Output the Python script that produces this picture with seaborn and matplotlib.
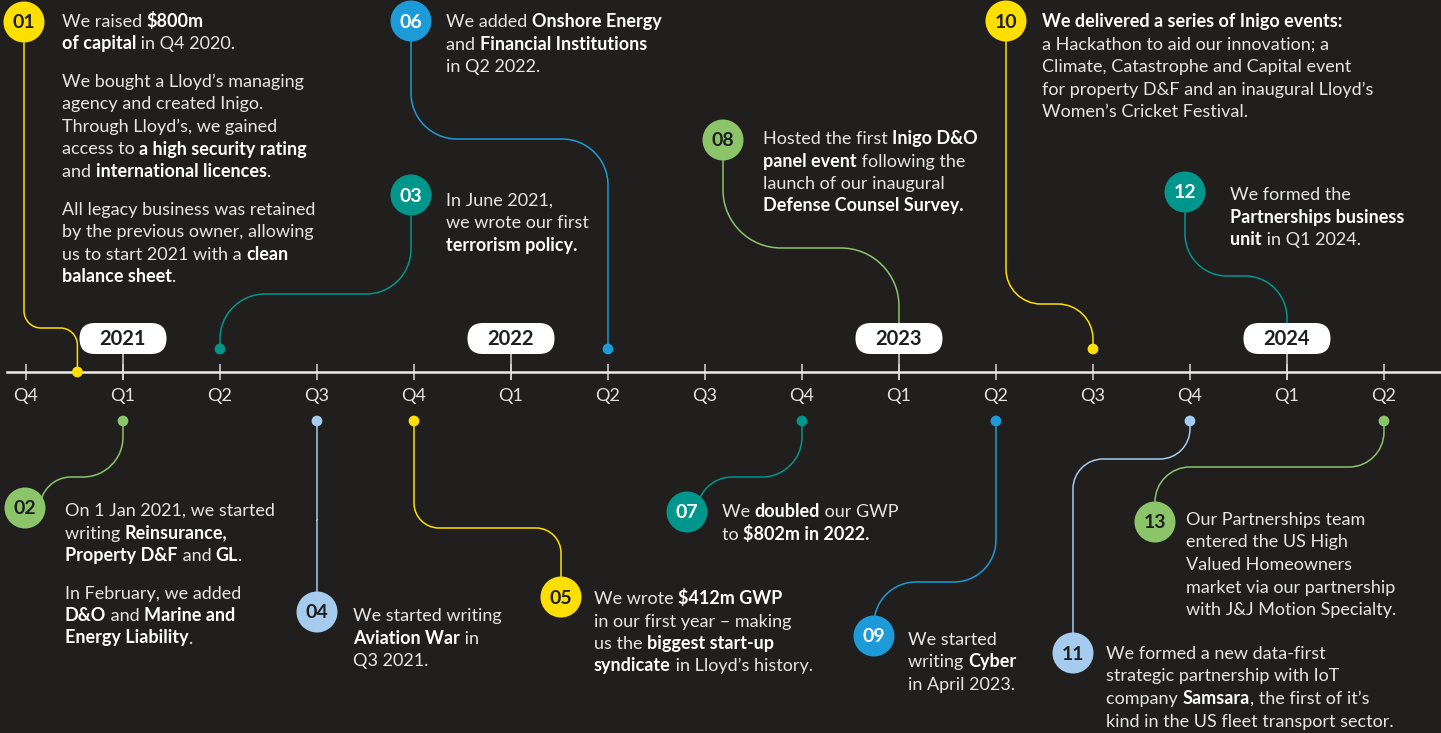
import matplotlib
matplotlib.use("Agg")
import matplotlib.pyplot as plt
import numpy as np
import pandas as pd
import seaborn as sns
from matplotlib.path import Path
from matplotlib.patches import PathPatch, Circle, FancyBboxPatch
from matplotlib.transforms import Affine2D

W, H = 1441, 733
BG = "#201f1e"
FONT = "Lato"

# timeline axis
quarter_labels = ["Q4", "Q1", "Q2", "Q3", "Q4", "Q1", "Q2", "Q3",
                  "Q4", "Q1", "Q2", "Q3", "Q4", "Q1", "Q2"]
years = ["2021", "2022", "2023", "2024"]
year_quarter = [1, 5, 9, 13]

# events (quarter index 0 = Q4 2020)
event_ids = ["01", "02", "03", "04", "05", "06", "07", "08", "09", "10", "11", "12", "13"]
event_quarter = [0.53, 1, 2, 3, 4, 6, 8, 9, 10, 11, 12, 13, 14]
event_side = ["on", "below", "above", "below", "below", "above", "below",
              "year", "below", "above", "below", "year", "below"]
event_colour = ["yellow", "green", "teal", "lightblue", "yellow", "blue", "teal",
                "green", "blue", "yellow", "lightblue", "teal", "green"]
event_text = [
    "We raised **$800m**\n**of capital** in Q4 2020.\n\n"
    "We bought a Lloyd’s managing\nagency and created Inigo.\nThrough Lloyd’s, we gained\n"
    "access to **a high security rating**\nand **international licences**.\n\n"
    "All legacy business was retained\nby the previous owner, allowing\n"
    "us to start 2021 with a **clean**\n**balance sheet**.",
    "On 1 Jan 2021, we started\nwriting **Reinsurance,**\n**Property D&F** and **GL**.\n\n"
    "In February, we added\n**D&O** and **Marine and**\n**Energy Liability**.",
    "In June 2021,\nwe wrote our first\n**terrorism policy.**",
    "We started writing\n**Aviation War** in\nQ3 2021.",
    "We wrote **$412m GWP**\nin our first year – making\nus the **biggest start-up**\n"
    "**syndicate** in Lloyd’s history.",
    "We added **Onshore Energy**\nand **Financial Institutions**\nin Q2 2022.",
    "We **doubled** our GWP\nto **$802m in 2022.**",
    "Hosted the first **Inigo D&O**\n**panel event** following the\nlaunch of our inaugural\n"
    "**Defense Counsel Survey.**",
    "We started\nwriting **Cyber**\nin April 2023.",
    "**We delivered a series of Inigo events:**\na Hackathon to aid our innovation; a\n"
    "Climate, Catastrophe and Capital event\nfor property D&F and an inaugural Lloyd’s\n"
    "Women’s Cricket Festival.",
    "We formed a new data-first\nstrategic partnership with IoT\n"
    "company **Samsara**, the first of it’s\nkind in the US fleet transport sector.",
    "We formed the\n**Partnerships business**\n**unit** in Q1 2024.",
    "Our Partnerships team\nentered the US High\nValued Homeowners\n"
    "market via our partnership\nwith J&J Motion Specialty.",
]

COLOURS = {"yellow": "#ffdf00", "green": "#8cc46a", "teal": "#00968c",
           "blue": "#1d9ad8", "lightblue": "#a5cbee"}
NUM_COLOUR = {"yellow": "#1e1e1e", "green": "#1e1e1e", "lightblue": "#1e1e1e",
              "teal": "#ffffff", "blue": "#ffffff"}
SIDE_Y = {"above": 349, "below": 421, "on": 372, "year": 323}

# layout in pixels: badge centre, text origin (x, first baseline), connector
LAYOUT = {
    "01": dict(badge=(24, 22), text=(62, 27), ym=328, r=17),
    "02": dict(badge=(25, 508), text=(65, 516), ym=477, r=40, xs=40),
    "03": dict(badge=(411, 195), text=(446, 206), ym=294, r=45),
    "04": dict(badge=(317, 612), text=(353, 621), ym=520, r=0),
    "05": dict(badge=(561, 597), text=(594, 604), ym=528, r=25),
    "06": dict(badge=(411, 21), text=(446, 27), ym=139, r=46),
    "07": dict(badge=(687, 512), text=(722, 517), ym=477, r=40, xs=697),
    "08": dict(badge=(723, 140), text=(763, 144), ym=248, r=58),
    "09": dict(badge=(874, 636), text=(908, 645), ym=582, r=42),
    "10": dict(badge=(1006, 21), text=(1042, 27), ym=304, r=35),
    "11": dict(badge=(1073, 653), text=(1106, 659), ym=459, r=30),
    "12": dict(badge=(1185, 192), text=(1230, 200), ym=276, r=42),
    "13": dict(badge=(1155, 522), text=(1186, 525), ym=467, r=35),
}
LINE_H = 22.5
PARA_GAP = 15
BODY_FS = 13

sns.set_style("dark", {"axes.facecolor": BG, "figure.facecolor": BG})
plt.rcParams["font.family"] = [FONT, "DejaVu Sans"]

fig = plt.figure(figsize=(W / 100, H / 100), dpi=100)
ax = fig.add_axes([0, 0, 1, 1])
pix = Affine2D().scale(1 / 100, -1 / 100).translate(0, H / 100) + fig.dpi_scale_trans

df = pd.DataFrame({"id": event_ids, "q": event_quarter, "side": event_side,
                   "colour": event_colour, "text": event_text})
df["y"] = df["side"].map(SIDE_Y)
dots = df[df["side"] != "year"]
sns.scatterplot(data=dots, x="q", y="y", hue="id",
                palette={i: COLOURS[c] for i, c in zip(df["id"], df["colour"])},
                s=60, edgecolor="none", legend=False, ax=ax, zorder=6)

ax.set_xlim(-0.268, 14.588)
ax.set_ylim(H, 0)
ax.set_xlabel("")
ax.set_ylabel("")
ax.grid(False)
ax.set_facecolor(BG)
for s in ["top", "left", "right"]:
    ax.spines[s].set_visible(False)
ax.spines["bottom"].set_position(("data", 372))
ax.spines["bottom"].set_bounds(-0.2, 14.588)
ax.spines["bottom"].set_color("#ececec")
ax.spines["bottom"].set_linewidth(1.8)
ax.set_xticks(range(len(quarter_labels)), quarter_labels)
ax.set_yticks([])
ax.tick_params(axis="x", direction="inout", length=11, width=1.1, color="#d8d8d8",
               labelcolor="#e4e4e4", labelsize=13, pad=6, bottom=True)
ax.vlines(year_quarter, 354, 380, colors="#d8d8d8", lw=1.1, zorder=1)

fig.canvas.draw()
renderer = fig.canvas.get_renderer()
to_pix = ax.transData + pix.inverted()


def qx(q):
    return to_pix.transform((q, 0))[0]


# year labels
for yr, q in zip(years, year_quarter):
    xc = qx(q)
    ax.add_patch(FancyBboxPatch((xc - 43.5, 323), 87, 31,
                                boxstyle="round,pad=0,rounding_size=15.5",
                                fc="white", ec="none", transform=pix, zorder=4))
    ax.text(xc, 339, yr, transform=pix, ha="center", va="center",
            fontsize=14.5, fontweight="bold", color="#1e1e1e", zorder=5)


def connector(pts, r):
    p0, p1, p2, p3 = [np.array(p, float) for p in pts]
    k = 0.5523
    verts, codes = [p0], [Path.MOVETO]

    def seg(a, b):
        d = b - a
        n = np.hypot(*d)
        return (d / n if n else d * 0), n

    u01, l01 = seg(p0, p1)
    u12, l12 = seg(p1, p2)
    u23, l23 = seg(p2, p3)
    for c, ui, uo, rr in [(p1, u01, u12, min(r, l01, l12 / 2)),
                          (p2, u12, u23, min(r, l12 / 2, l23))]:
        a = c - rr * ui
        b = c + rr * uo
        verts += [a, a + k * rr * ui, b - k * rr * uo, b]
        codes += [Path.LINETO, Path.CURVE4, Path.CURVE4, Path.CURVE4]
    verts.append(p3)
    codes.append(Path.LINETO)
    return Path(verts, codes)


_wcache = {}


def text_width(s, weight):
    key = (s, weight)
    if key not in _wcache:
        t = ax.text(0, 0, "x" + s + "x", fontsize=BODY_FS, fontweight=weight,
                    transform=pix)
        w1 = t.get_window_extent(renderer).width
        t.set_text("xx")
        w0 = t.get_window_extent(renderer).width
        t.remove()
        _wcache[key] = w1 - w0
    return _wcache[key]


def rich_text(x0, y0, body):
    y = y0
    for para in body.split("\n\n"):
        for line in para.split("\n"):
            x = x0
            for i, part in enumerate(line.split("**")):
                if not part:
                    continue
                weight = "bold" if i % 2 else "normal"
                ax.text(x, y, part, transform=pix, ha="left", va="baseline",
                        fontsize=BODY_FS, fontweight=weight,
                        color="#ffffff" if i % 2 else "#e6e6e6", zorder=7)
                x += text_width(part, weight)
            y += LINE_H
        y += PARA_GAP


for _, ev in df.iterrows():
    lay = LAYOUT[ev["id"]]
    col = COLOURS[ev["colour"]]
    bx, by = lay["badge"]
    xs = lay.get("xs", bx)
    xd = qx(ev["q"])
    path = connector([(xs, by), (xs, lay["ym"]), (xd, lay["ym"]), (xd, ev["y"])], lay["r"])
    ax.add_patch(PathPatch(path, fc="none", ec=col, lw=1.1, transform=pix, zorder=2))
    ax.add_patch(Circle((bx, by), 20.5, fc=col, ec="none", transform=pix, zorder=8))
    ax.text(bx, by + 1, ev["id"], transform=pix, ha="center", va="center",
            fontsize=14, fontweight="bold", color=NUM_COLOUR[ev["colour"]], zorder=9)
    rich_text(*lay["text"], ev["text"])

fig.savefig("out.png", dpi=100, facecolor=BG)
